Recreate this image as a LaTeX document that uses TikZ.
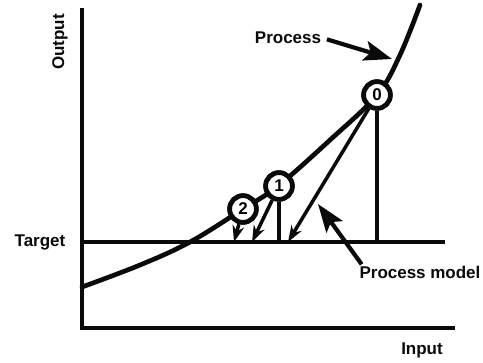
\documentclass[tikz,border=0pt]{standalone}
\usepackage{fontspec}
\setmainfont{Liberation Sans}
\usetikzlibrary{arrows.meta,positioning}
\definecolor{inkblack}{RGB}{10,10,10}

\begin{document}
\begin{tikzpicture}[x=0.03cm,y=-0.03cm,
    lbl/.style={font=\fontsize{14.5}{16}\selectfont\bfseries,color=inkblack,inner sep=1pt},
    axisline/.style={line width=2.8pt,color=inkblack},
    curveline/.style={line width=4pt,color=inkblack,line cap=round},
    modelline/.style={line width=3pt,color=inkblack,-{Stealth[length=14pt,width=10pt]}},
    pointer/.style={line width=3.6pt,color=inkblack,-{Stealth[length=24pt,width=17pt,inset=5pt]}},
    stepcircle/.style={circle,draw=inkblack,line width=4pt,fill=white,
        minimum size=0.8cm,inner sep=0pt,font=\fontsize{14.5}{16}\selectfont\bfseries}]
  \useasboundingbox (0,0) rectangle (483,362);
  % axes
  \coordinate (ytop) at (82,8);
  \coordinate (origin) at (82,328);
  \coordinate (xend) at (455,328);
  \draw[axisline] (ytop) -- (origin) -- (xend);
  \node[lbl,rotate=90] (outlbl) at (60,42) {Output};
  \node[lbl] (inlbl) at (422,350) {Input};
  % target level
  \coordinate (tleft) at (82,242);
  \coordinate (tright) at (445,242);
  \draw[axisline] (tleft) -- (tright);
  \node[lbl] (tgtlbl) at (40,242) {Target};
  % process curve
  \draw[curveline] plot[smooth,tension=0.6] coordinates
    {(82,287) (140,265) (190,242) (243,209) (278,186) (330,140) (377,95) (400,55) (420,5)};
  % model steps
  \node[stepcircle] (c0) at (377,95) {0};
  \node[stepcircle] (c1) at (279,186) {1};
  \node[stepcircle] (c2) at (243,209) {2};
  \coordinate (m0) at (288,242);
  \coordinate (m1) at (252,242);
  \coordinate (m2) at (234,242);
  \draw[axisline] (c0.south) -- (c0 |- tright);
  \draw[axisline] (c1.south) -- (c1 |- tright);
  \draw[modelline] (c0) -- (m0);
  \draw[modelline] (c1) -- (m1);
  \draw[modelline] (c2) -- (m2);
  \node[stepcircle] at (c0) {0};
  \node[stepcircle] at (c1) {1};
  \node[stepcircle] at (c2) {2};
  % labels with pointers
  \node[lbl] (proclbl) at (288,38) {Process};
  \coordinate (procpt) at (392,59);
  \draw[pointer,shorten <=4pt] (proclbl.east) -- (procpt);
  \node[lbl] (modlbl) at (420,272) {Process model};
  \coordinate (modpt) at (318,204);
  \draw[pointer] ([xshift=3pt]modlbl.north west) -- (modpt);
\end{tikzpicture}
\end{document}
